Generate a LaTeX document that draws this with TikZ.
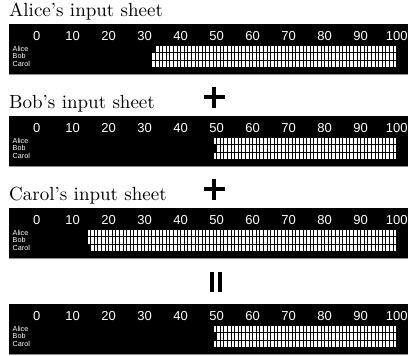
\documentclass[tikz,border=0pt]{standalone}
\usepackage{fontspec}
\usepackage{graphicx}
\newfontfamily\numfont{Liberation Sans}
\tikzset{
  sheettitle/.style={anchor=base west, inner sep=0pt, font=\fontsize{10}{12}\selectfont},
  axisnum/.style={text=white, inner sep=0pt, font=\numfont\fontsize{13}{13}\selectfont},
  rowname/.style={text=white, anchor=west, inner sep=0pt, font=\numfont\fontsize{7.2}{7.5}\selectfont},
  sheetbg/.style={fill=black},
  sheetedge/.style={fill=black!45},
  cellfill/.style={fill=white},
  opsign/.style={fill=black},
}
\newcommand\drawsheet[6]{% #1 tag, #2 top, #3 title, #4 Alice, #5 Bob, #6 Carol
  \fill[sheetbg] (9,#2) rectangle (408,#2+50);
  \fill[sheetedge] (9,#2+50) rectangle (408,#2+51.2);
  \ifx&#3&\else\node[sheettitle] (title#1) at (9,#2-7.5) {\scalebox{1.9}{#3}};\fi
  \foreach \v in {0,10,...,100}
    \node[axisnum] (num#1\v) at ({36.7+3.6*\v},#2+12) {\v};
  \node[rowname] (alice#1) at (12.5,#2+24.8) {Alice};
  \node[rowname] (bob#1) at (12.5,#2+32) {Bob};
  \node[rowname] (carol#1) at (12.5,#2+39.5) {Carol};
  \foreach \u in {#4,...,99}
    \fill[cellfill] ({36.7+3.6*\u+0.5},#2+21.5) rectangle ({36.7+3.6*(\u+1)-0.5},#2+28);
  \foreach \u in {#5,...,99}
    \fill[cellfill] ({36.7+3.6*\u+0.5},#2+29.2) rectangle ({36.7+3.6*(\u+1)-0.5},#2+35.5);
  \foreach \u in {#6,...,99}
    \fill[cellfill] ({36.7+3.6*\u+0.5},#2+36.9) rectangle ({36.7+3.6*(\u+1)-0.5},#2+43.3);
}
\newcommand\plussign[2]{% center x, center y
  \fill[opsign] (#1-10.5,#2-2.3) rectangle (#1+10.5,#2+2.3);
  \fill[opsign] (#1-2.3,#2-10.5) rectangle (#1+2.3,#2+10.5);
}
\begin{document}
\begin{tikzpicture}[x=1pt,y=-1pt]
\useasboundingbox (0,0) rectangle (408,356);
\drawsheet{a}{24}{Alice's input sheet}{33}{32}{32}
\drawsheet{b}{116}{Bob's input sheet}{49}{50}{49}
\drawsheet{c}{208}{Carol's input sheet}{14}{14}{15}
\drawsheet{d}{304}{}{49}{50}{49}
\plussign{214}{97}
\plussign{214}{189}
\fill[opsign] (210,272) rectangle (214.2,292);
\fill[opsign] (218,272) rectangle (222.2,292);
\end{tikzpicture}
\end{document}
